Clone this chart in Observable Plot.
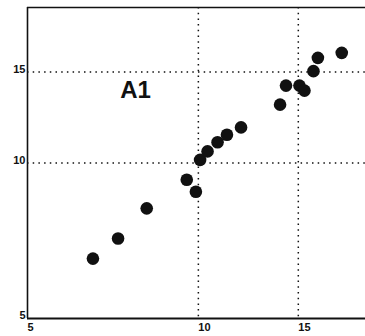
<!DOCTYPE html>
<html><head><meta charset="utf-8">
<script src="https://cdn.jsdelivr.net/npm/d3@7"></script>
<script src="https://cdn.jsdelivr.net/npm/@observablehq/plot@0.6"></script>
<style>html,body{margin:0;padding:0;background:#fff;overflow:hidden}svg{display:block}</style>
</head><body><div id="chart"></div>
<script>
const xValues = [6.52, 7.22, 8.11, 9.54, 9.90, 10.07, 10.38, 10.81, 11.23, 11.89, 13.93, 14.27, 15.07, 15.38, 15.95, 16.24, 17.89];
const yValues = [6.53, 7.14, 8.17, 9.28, 8.80, 10.14, 10.53, 10.97, 11.34, 11.72, 12.97, 14.12, 14.12, 13.81, 15.06, 15.98, 16.34];
const xTicks = [5, 10, 15];
const yTicks = [5, 10, 15];
const gridX = [10, 15];
const gridY = [10, 15];
const panelLabel = ["A1"];
const panelLabelX = [7.75];
const panelLabelY = [13.8];

const points = xValues.map((x, i) => ({x, y: yValues[i]}));
const labels = panelLabel.map((t, i) => ({t, x: panelLabelX[i], y: panelLabelY[i]}));
const ink = "#111";
const dots = {stroke: "#111", strokeDasharray: "1.5 4.2", strokeWidth: 1.5};

const chart = Plot.plot({
  width: 365, height: 336,
  marginLeft: 27, marginRight: 0, marginTop: 7, marginBottom: 18,
  x: {type: "log", domain: [5, 19.7]},
  y: {type: "log", domain: [5, 20]},
  style: {fontFamily: "'Liberation Sans', Arial, sans-serif", fontSize: "11px", background: "#fff", color: ink},
  marks: [
    Plot.ruleX(gridX, dots),
    Plot.ruleY(gridY, dots),
    Plot.ruleX([5], {stroke: ink, strokeWidth: 1.6}),
    Plot.ruleY([5], {stroke: ink, strokeWidth: 1.8}),
    Plot.ruleY([20], {stroke: ink, strokeWidth: 1.6}),
    Plot.axisX(xTicks, {tickSize: 0, tickPadding: 5, textAnchor: "start", dx: 0, tickFormat: d => String(d), fontWeight: "bold", label: null}),
    Plot.axisY(yTicks, {tickSize: 0, tickPadding: 2, dy: -3, tickFormat: d => String(d), fontWeight: "bold", label: null}),
    Plot.dot(points, {x: "x", y: "y", r: 6.3, fill: ink}),
    Plot.text(labels, {x: "x", y: "y", text: "t", fontSize: 24, fontWeight: "bold", fill: ink})
  ]
});
document.getElementById("chart").appendChild(chart);
</script>
</body></html>
